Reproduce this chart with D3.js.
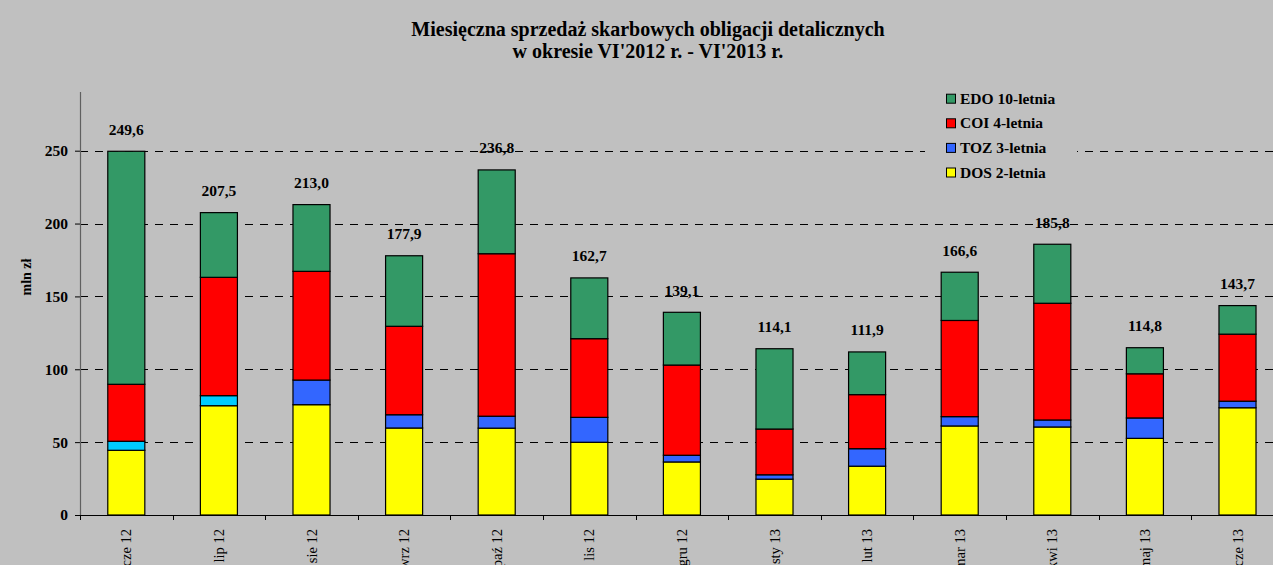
<!DOCTYPE html>
<html>
<head>
<meta charset="utf-8">
<script src="https://cdn.jsdelivr.net/npm/d3@7"></script>
<style>
html,body{margin:0;padding:0;background:#c0c0c0;}
svg{display:block;}
text{font-family:"Liberation Serif","Times New Roman",serif;}
</style>
</head>
<body>
<svg id="chart" width="1273" height="565"></svg>
<script>
// ---- data ----
const months = ["cze 12","lip 12","sie 12","wrz 12","paź 12","lis 12","gru 12","sty 13","lut 13","mar 13","kwi 13","maj 13","cze 13"];
const dos = [44.4,75.0,75.7,59.7,59.6,49.9,36.4,24.6,33.5,61.1,60.4,52.6,73.6];
const toz = [6.2,6.9,16.9,9.1,8.2,17.1,4.6,3.0,12.0,6.4,4.8,14.0,4.5];
const coi = [39.1,81.2,74.6,60.7,111.5,54.0,61.9,31.4,37.1,66.0,80.1,30.3,46.0];
const edo = [159.9,44.4,45.8,48.4,57.5,41.7,36.2,55.1,29.3,33.1,40.5,17.9,19.6];
const totalLabels = ["249,6","207,5","213,0","177,9","236,8","162,7","139,1","114,1","111,9","166,6","185,8","114,8","143,7"];
const seriesKeys = ["DOS","TOZ","COI","EDO"];
const seriesNames = {EDO:"EDO 10-letnia", COI:"COI 4-letnia", TOZ:"TOZ 3-letnia", DOS:"DOS 2-letnia"};
const yTicks = [0,50,100,150,200,250];
const tozAltMonths = ["cze 12","lip 12"];
const titleLines = ["Miesięczna sprzedaż skarbowych obligacji detalicznych","w okresie VI'2012 r. - VI'2013 r."];
const yTitle = "mln zł";

// ---- styles ----
const colors = {EDO:"#339966", COI:"#ff0000", TOZ:"#3366ff", DOS:"#ffff00"};
const tozAlt = "#00ccff";
const FONT = "Liberation Serif";

const table = months.map((m,i)=>({month:m, DOS:dos[i], TOZ:toz[i], COI:coi[i], EDO:edo[i]}));

const svg = d3.select("#chart");
const left = 80, bottom = 515, step = 92.6;
const x = d3.scaleBand().domain(months).range([left, left + step*months.length]).paddingInner(0.6).paddingOuter(0.3);
const y = d3.scaleLinear().domain([0,290]).range([bottom, 92.4]);

svg.append("rect").attr("width",1273).attr("height",565).attr("fill","#c0c0c0");

// gridlines
svg.append("g").selectAll("line").data(yTicks.filter(t=>t>0)).join("line")
  .attr("x1",left).attr("x2",1273).attr("y1",d=>Math.round(y(d))+0.5).attr("y2",d=>Math.round(y(d))+0.5)
  .attr("stroke","#000").attr("stroke-width",1).attr("stroke-dasharray","8,7");

// legend (box covers gridline)
const lg = svg.append("g");
lg.append("rect").attr("x",925).attr("y",86).attr("width",152).attr("height",99).attr("fill","#c0c0c0");
const legOrder = ["EDO","COI","TOZ","DOS"];
legOrder.forEach((k,i)=>{
  const cy = 98.7 + i*24.6;
  lg.append("rect").attr("x",946.5).attr("y",cy-4.5).attr("width",9).attr("height",9)
    .attr("fill",colors[k]).attr("stroke","#000").attr("stroke-width",1);
  lg.append("text").attr("x",960).attr("y",cy+5).attr("font-family",FONT).attr("font-size","15.5px").attr("font-weight","bold")
    .attr("fill","#000").text(seriesNames[k]);
});

// bars
const stacked = d3.stack().keys(seriesKeys)(table);
svg.append("g").selectAll("g").data(stacked).join("g")
  .each(function(s){
    d3.select(this).selectAll("rect").data(s).join("rect")
      .attr("x",d=>x(d.data.month))
      .attr("y",d=>y(d[1]))
      .attr("width",x.bandwidth())
      .attr("height",d=>y(d[0])-y(d[1]))
      .attr("fill",d=> (s.key==="TOZ" && tozAltMonths.includes(d.data.month)) ? tozAlt : colors[s.key])
      .attr("stroke","#000").attr("stroke-width",1.2);
  });

// total labels
svg.append("g").selectAll("text").data(table).join("text")
  .attr("x",d=>x(d.month)+x.bandwidth()/2)
  .attr("y",d=>y(d.DOS+d.TOZ+d.COI+d.EDO)-16.5)
  .attr("text-anchor","middle").attr("font-family",FONT).attr("font-size","15.5px").attr("font-weight","bold").attr("fill","#000")
  .text((d,i)=>totalLabels[i]);

// y axis
const yAxis = svg.append("g").attr("transform",`translate(${left},0)`)
  .call(d3.axisLeft(y).tickValues(yTicks).tickSize(5).tickPadding(7).tickFormat(d3.format("d")));
yAxis.attr("font-family",FONT);
yAxis.select(".domain").remove();
yAxis.selectAll(".tick line").attr("stroke","#000");
yAxis.selectAll("text").attr("font-size","15.5px").attr("font-weight","bold").attr("fill","#000")
  .attr("font-family",FONT);
svg.append("line").attr("x1",left+0.5).attr("x2",left+0.5).attr("y1",92).attr("y2",bottom)
  .attr("stroke","#606060").attr("stroke-width",1.2);

// x axis
const xAxisG = svg.append("g").attr("transform",`translate(0,${bottom})`);
xAxisG.append("line").attr("x1",left).attr("x2",1273).attr("y1",0.5).attr("y2",0.5).attr("stroke","#000").attr("stroke-width",1.2);
const bounds = d3.range(months.length+1).map(k=>x.range()[0] + k*x.step());
xAxisG.selectAll("line.tk").data(bounds).join("line").attr("class","tk")
  .attr("x1",d=>Math.round(d)+0.5).attr("x2",d=>Math.round(d)+0.5).attr("y1",0).attr("y2",5)
  .attr("stroke","#000");
xAxisG.selectAll("text").data(months).join("text")
  .attr("transform",d=>`translate(${x(d)+x.bandwidth()/2+5},14) rotate(-90)`)
  .attr("text-anchor","end").attr("font-family",FONT).attr("font-size","14.5px").attr("fill","#000")
  .text(d=>d);

// y title
svg.append("text").attr("transform","translate(31,277) rotate(-90)").attr("text-anchor","middle")
  .attr("font-family",FONT).attr("font-size","14px").attr("font-weight","bold").attr("fill","#000").text(yTitle);

// title
svg.append("g").selectAll("text").data(titleLines).join("text")
  .attr("x",648).attr("y",(d,i)=>36+i*22)
  .attr("text-anchor","middle").attr("font-family",FONT).attr("font-size","20px").attr("font-weight","bold").attr("fill","#000")
  .text(d=>d);
</script>
</body>
</html>
